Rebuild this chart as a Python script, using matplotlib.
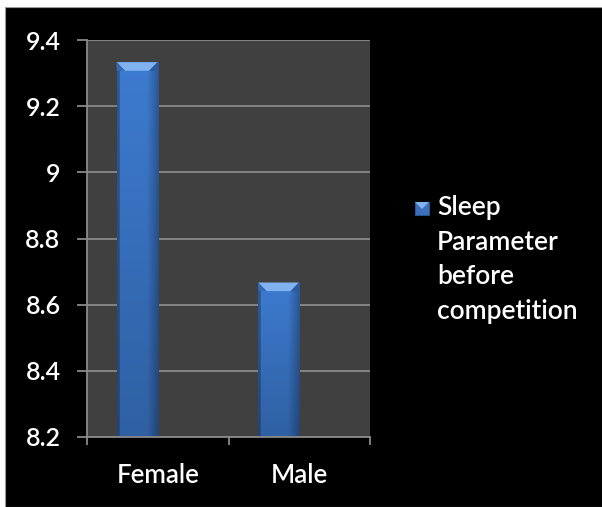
import numpy as np
import matplotlib
matplotlib.use("Agg")
import matplotlib.pyplot as plt
from matplotlib.patches import Rectangle, Polygon
from matplotlib.ticker import FuncFormatter

categories = ["Female", "Male"]
values = [9.333, 8.667]
series_label = "Sleep\nParameter\nbefore\ncompetition"
y_ticks = [8.2, 8.4, 8.6, 8.8, 9.0, 9.2, 9.4]

FONT = ["Lato", "DejaVu Sans"]
plt.rcParams["font.family"] = FONT
plt.rcParams["font.weight"] = "semibold"

W, H = 602, 507
fig = plt.figure(figsize=(W / 100, H / 100), dpi=100, facecolor="white")

# black slide background with a thin white margin on top and left
fig.patches.append(Rectangle((5 / W, 0), 1, 1 - 7 / H, transform=fig.transFigure,
                             facecolor="black", edgecolor="#9a9a9a", linewidth=0.8, zorder=-10))

ax = fig.add_axes([87 / W, 1 - 437 / H, (370 - 87) / W, (437 - 40) / H])
ax.set_facecolor("#404040")

ymin, ymax = y_ticks[0], y_ticks[-1]
ax.set_ylim(ymin, ymax)
ax.set_xlim(-0.5, len(categories) - 0.5)

grid_col = "#8a8a8a"
for t in y_ticks:
    ax.axhline(t, color=grid_col, linewidth=1.3, zorder=1)

bar_w = 0.29
offset = -0.146
xs = np.arange(len(categories)) + offset

base = np.array([0x3d, 0x7b, 0xd0]) / 255.0


def bar_gradient(nx=60, ny=200):
    u = np.linspace(0, 1, nx)
    v = np.linspace(0, 1, ny)[:, None]  # 0 at bottom, 1 at top
    hfac = np.ones(nx)
    hfac[u < 0.06] = 0.72
    hfac = hfac * (1.0 - 0.28 * np.clip((u - 0.72) / 0.28, 0, 1))
    vfac = 0.78 + 0.22 * v
    img = base[None, None, :] * hfac[None, :, None] * vfac[:, :, None]
    return np.clip(img, 0, 1)


for x, val in zip(xs, values):
    x0, x1 = x - bar_w / 2, x + bar_w / 2
    rect = ax.bar(x, val - ymin, bottom=ymin, width=bar_w, color=base,
                  linewidth=0, zorder=2)[0]
    im = ax.imshow(bar_gradient(), extent=(x0, x1, ymin, val), origin="lower",
                   aspect="auto", zorder=3, interpolation="bilinear")
    im.set_clip_path(rect)
    # bevelled top edge
    bh = 0.026
    dx = 0.06
    ax.add_patch(Polygon([(x0, val), (x1, val), (x1 - dx, val - bh), (x0 + dx, val - bh)],
                         closed=True, facecolor="#7fb2ee", edgecolor="none", zorder=4))
    ax.add_patch(Polygon([(x0, val), (x0 + dx, val - bh), (x0, val - bh)],
                         closed=True, facecolor="#3468b0", edgecolor="none", zorder=4))
    ax.add_patch(Polygon([(x1, val), (x1 - dx, val - bh), (x1, val - bh)],
                         closed=True, facecolor="#2c5a9c", edgecolor="none", zorder=4))

ax.set_xlim(-0.5, len(categories) - 0.5)
ax.set_ylim(ymin, ymax)

for s in ["top", "right"]:
    ax.spines[s].set_visible(False)
for s in ["left", "bottom"]:
    ax.spines[s].set_color(grid_col)
    ax.spines[s].set_linewidth(1.3)
    ax.spines[s].set_zorder(5)

ax.set_yticks(y_ticks)
ax.yaxis.set_major_formatter(FuncFormatter(lambda v, p: f"{v:g}"))
ax.tick_params(axis="y", length=7, width=1.3, color=grid_col, pad=12,
               labelcolor="white", labelsize=18)

ax.set_xticks(np.arange(len(categories) + 1) - 0.5)
ax.set_xticklabels([])
ax.set_xticks(np.arange(len(categories)), minor=True)
ax.set_xticklabels(categories, minor=True)
ax.tick_params(axis="x", which="major", length=6, width=1.3, color=grid_col)
ax.tick_params(axis="x", which="minor", length=0, pad=19, labelcolor="white", labelsize=18.5)

# legend: swatch beside the first line of a wrapped label
fig.patches.append(Rectangle((415 / W, 1 - 215 / H), 14 / W, 13 / H, transform=fig.transFigure,
                             facecolor="#3d70b8", edgecolor="#2a5590", linewidth=0.8))
fig.patches.append(Polygon([(415 / W, 1 - 202 / H), (429 / W, 1 - 202 / H), (422 / W, 1 - 209 / H)],
                           closed=True, transform=fig.transFigure, facecolor="#7fb2ee",
                           edgecolor="none"))
fig.text(437 / W, 1 - 195 / H, series_label, color="white", fontsize=19,
         ha="left", va="top", linespacing=1.48)

fig.savefig("out.png", dpi=100, facecolor=fig.get_facecolor())
